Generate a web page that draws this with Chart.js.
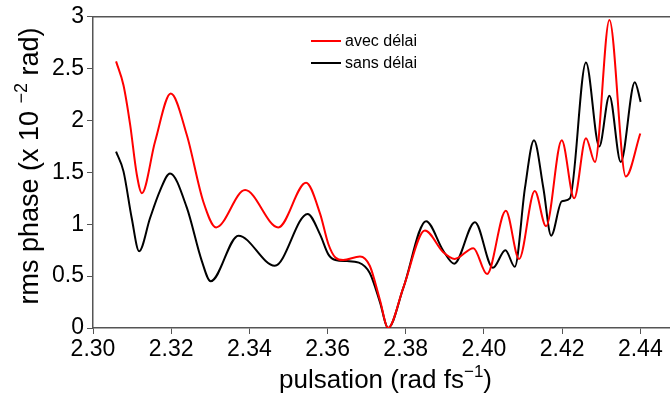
<!DOCTYPE html>
<html>
<head>
<meta charset="utf-8">
<script src="https://cdn.jsdelivr.net/npm/chart.js@4/dist/chart.umd.min.js"></script>
<style>
  body { margin: 0; background: #fff; }
  #wrap { width: 670px; height: 405px; position: relative; }
</style>
</head>
<body>
<div id="wrap"><canvas id="rmsChart"></canvas></div>
<script>
// Values
const avecX = [2.3059, 2.3078, 2.3095, 2.3112, 2.3125, 2.3159, 2.3199, 2.3240, 2.3282, 2.3315,
               2.3389, 2.3474, 2.3545, 2.3581, 2.3602, 2.3620, 2.3640, 2.3683, 2.3708, 2.3734,
               2.3755, 2.3794, 2.3849, 2.3896, 2.3925, 2.3973, 2.4008, 2.4056, 2.4090, 2.4130,
               2.4159, 2.4199, 2.4231, 2.4261, 2.4284, 2.4321, 2.4363, 2.4400];
const avecY = [2.57, 2.34, 1.96, 1.48, 1.30, 1.80, 2.26, 1.86, 1.22, 0.97,
               1.33, 0.97, 1.40, 1.10, 0.81, 0.68, 0.655, 0.69, 0.60, 0.27,
               0.00, 0.39, 0.94, 0.73, 0.665, 0.77, 0.52, 1.13, 0.665, 1.32,
               0.98, 1.81, 1.25, 1.83, 1.60, 2.97, 1.46, 1.875];

const sansX = [2.3059, 2.3078, 2.3099, 2.3118, 2.3146, 2.3171, 2.3197, 2.3240, 2.3278, 2.3301,
               2.3372, 2.3465, 2.3549, 2.3581, 2.3602, 2.3620, 2.3650, 2.3680, 2.3708, 2.3734,
               2.3755, 2.3794, 2.3852, 2.3896, 2.3924, 2.3977, 2.4023, 2.4055, 2.4079, 2.4105,
               2.4128, 2.4152, 2.4172, 2.4199, 2.4220, 2.4261, 2.4295, 2.4321, 2.4350, 2.4386,
               2.4401];
const sansY = [1.70, 1.51, 1.06, 0.74, 1.06, 1.32, 1.49, 1.16, 0.65, 0.45,
               0.89, 0.60, 1.10, 0.90, 0.71, 0.655, 0.645, 0.63, 0.53, 0.25,
               0.00, 0.39, 1.03, 0.745, 0.62, 1.02, 0.58, 0.75, 0.59, 1.35,
               1.81, 1.35, 0.89, 1.22, 1.25, 2.56, 1.75, 2.24, 1.60, 2.37,
               2.18];

const xTicks = [2.30, 2.32, 2.34, 2.36, 2.38, 2.40, 2.42, 2.44];
const yTicks = [0, 0.5, 1, 1.5, 2, 2.5, 3];
const seriesNames = ['avec délai', 'sans délai'];
const seriesColors = ['#ff0000', '#000000'];

const axisColor = '#555555';
const fontFamily = '"Liberation Sans", Arial, sans-serif';

function toPoints(xs, ys) {
    return xs.map((x, i) => ({ x: x, y: ys[i] }));
}

// text with a raised exponent, centred on 0,0 (baseline)
function drawSupText(ctx, before, sup, after, size) {
    const main = size + 'px ' + fontFamily;
    const small = Math.round(size * 0.65) + 'px ' + fontFamily;
    ctx.font = main;
    const w1 = ctx.measureText(before).width;
    const w3 = ctx.measureText(after).width;
    ctx.font = small;
    const w2 = ctx.measureText(sup).width;
    let x = -(w1 + w2 + w3) / 2;
    ctx.textAlign = 'left';
    ctx.textBaseline = 'alphabetic';
    ctx.font = main;
    ctx.fillText(before, x, 0);
    x += w1;
    ctx.font = small;
    ctx.fillText(sup, x, -size * 0.42);
    x += w2;
    ctx.font = main;
    ctx.fillText(after, x, 0);
}

const decorPlugin = {
    id: 'decor',
    afterDraw(chart) {
        const ctx = chart.ctx;
        const a = chart.chartArea;
        ctx.save();

        // top frame line
        ctx.strokeStyle = axisColor;
        ctx.lineWidth = 1.5;
        ctx.beginPath();
        ctx.moveTo(a.left, a.top);
        ctx.lineTo(a.right, a.top);
        ctx.stroke();

        ctx.fillStyle = '#000';

        // x axis title
        ctx.save();
        ctx.translate((a.left + a.right) / 2 + 4, 388);
        drawSupText(ctx, 'pulsation (rad fs', '\u22121', ')', 26);
        ctx.restore();

        // y axis title
        ctx.save();
        ctx.translate(38, 166);
        ctx.rotate(-Math.PI / 2);
        drawSupText(ctx, 'rms phase (x 10 ', '\u22122', ' rad)', 27);
        ctx.restore();

        // legend inside the plot
        ctx.font = '16px ' + fontFamily;
        ctx.textAlign = 'left';
        ctx.textBaseline = 'middle';
        seriesNames.forEach((name, i) => {
            const y = 41 + i * 22;
            ctx.strokeStyle = seriesColors[i];
            ctx.lineWidth = 2;
            ctx.beginPath();
            ctx.moveTo(311, y);
            ctx.lineTo(341, y);
            ctx.stroke();
            ctx.fillStyle = '#000';
            ctx.fillText(name, 345, y + 1);
        });

        ctx.restore();
    }
};

const ctx = document.getElementById('rmsChart').getContext('2d');

new Chart(ctx, {
    type: 'line',
    data: {
        datasets: [
            {
                label: seriesNames[0],
                data: toPoints(avecX, avecY),
                borderColor: seriesColors[0],
                borderWidth: 2,
                pointRadius: 0,
                fill: false,
                cubicInterpolationMode: 'monotone'
            },
            {
                label: seriesNames[1],
                data: toPoints(sansX, sansY),
                borderColor: seriesColors[1],
                borderWidth: 2,
                pointRadius: 0,
                fill: false,
                cubicInterpolationMode: 'monotone'
            }
        ]
    },
    options: {
        responsive: true,
        maintainAspectRatio: false,
        animation: false,
        devicePixelRatio: 1,
        layout: {
            padding: { left: 0, top: 14, right: 0, bottom: 0 }
        },
        scales: {
            x: {
                type: 'linear',
                min: 2.30,
                max: 2.4476,
                afterBuildTicks: function (scale) {
                    scale.ticks = xTicks.map(v => ({ value: v }));
                },
                afterFit: function (scale) {
                    scale.height = 77;
                },
                grid: {
                    drawOnChartArea: false,
                    drawTicks: true,
                    tickLength: 6,
                    tickColor: axisColor
                },
                border: {
                    color: axisColor,
                    width: 1.5
                },
                ticks: {
                    color: '#000',
                    padding: 2,
                    maxRotation: 0,
                    autoSkip: false,
                    callback: function (value) {
                        return Number(value).toFixed(2);
                    },
                    font: {
                        family: fontFamily,
                        size: 23
                    }
                }
            },
            y: {
                type: 'linear',
                min: 0,
                max: 3,
                afterBuildTicks: function (scale) {
                    scale.ticks = yTicks.map(v => ({ value: v }));
                },
                afterFit: function (scale) {
                    scale.width = 93;
                },
                grid: {
                    drawOnChartArea: false,
                    drawTicks: true,
                    tickLength: 6,
                    tickColor: axisColor
                },
                border: {
                    color: axisColor,
                    width: 1.5
                },
                ticks: {
                    color: '#000',
                    padding: 3,
                    callback: function (value) {
                        return String(value);
                    },
                    font: {
                        family: fontFamily,
                        size: 23
                    }
                }
            }
        },
        plugins: {
            legend: {
                display: false
            },
            tooltip: {
                enabled: false
            }
        }
    },
    plugins: [decorPlugin]
});
</script>
</body>
</html>
